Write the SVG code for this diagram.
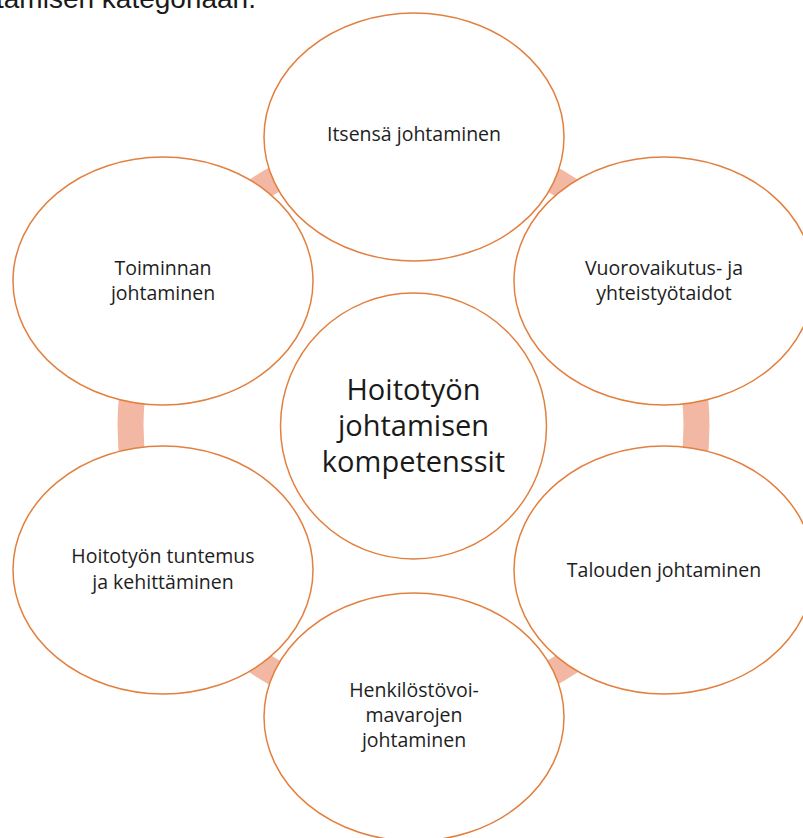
<svg xmlns="http://www.w3.org/2000/svg" width="803" height="838" viewBox="0 0 803 838">
<style>
.bg{fill:#ffffff}
.ring{fill:none;stroke:#F3B8A3;stroke-width:26}
.node{fill:#ffffff;stroke:#E2803F;stroke-width:1.5}
.t{font-family:"Open Sans","Noto Sans",sans-serif;font-size:19.5px;fill:#1e1e1e;text-anchor:middle}
.c{font-family:"Open Sans","Noto Sans",sans-serif;font-size:29px;fill:#1a1a1a;text-anchor:middle}
.top{font-family:"Liberation Sans",Arial,sans-serif;font-size:28px;fill:#1a1a1a}
</style>
<rect class="bg" x="0" y="0" width="803" height="838"/>
<text class="top" x="-4" y="8">tamisen kategoriaan.</text>
<g id="connectors">
<circle class="ring" cx="413.5" cy="426" r="283"/>
</g>
<g id="n-itsensa">
<ellipse class="node" cx="414" cy="137" rx="150" ry="124"/>
<text class="t" x="414" y="141">Itsensä johtaminen</text>
</g>
<g id="n-toiminnan">
<ellipse class="node" cx="163" cy="281" rx="150" ry="124"/>
<text class="t" x="163" y="275">Toiminnan</text>
<text class="t" x="163" y="300">johtaminen</text>
</g>
<g id="n-vuorovaikutus">
<ellipse class="node" cx="664" cy="281" rx="150" ry="124"/>
<text class="t" x="664" y="275">Vuorovaikutus- ja</text>
<text class="t" x="664" y="300">yhteistyötaidot</text>
</g>
<g id="n-hoitotyon">
<ellipse class="node" cx="163" cy="570" rx="150" ry="124"/>
<text class="t" x="163" y="563">Hoitotyön tuntemus</text>
<text class="t" x="163" y="589">ja kehittäminen</text>
</g>
<g id="n-talouden">
<ellipse class="node" cx="664" cy="570" rx="150" ry="124"/>
<text class="t" x="664" y="577">Talouden johtaminen</text>
</g>
<g id="n-henkilosto">
<ellipse class="node" cx="414" cy="717" rx="150" ry="124"/>
<text class="t" x="414" y="697">Henkilöstövoi-</text>
<text class="t" x="414" y="722">mavarojen</text>
<text class="t" x="414" y="747">johtaminen</text>
</g>
<g id="n-center">
<circle class="node" cx="413.5" cy="426" r="133"/>
<text class="c" x="413.5" y="400">Hoitotyön</text>
<text class="c" x="413.5" y="436">johtamisen</text>
<text class="c" x="413.5" y="472">kompetenssit</text>
</g>
</svg>
